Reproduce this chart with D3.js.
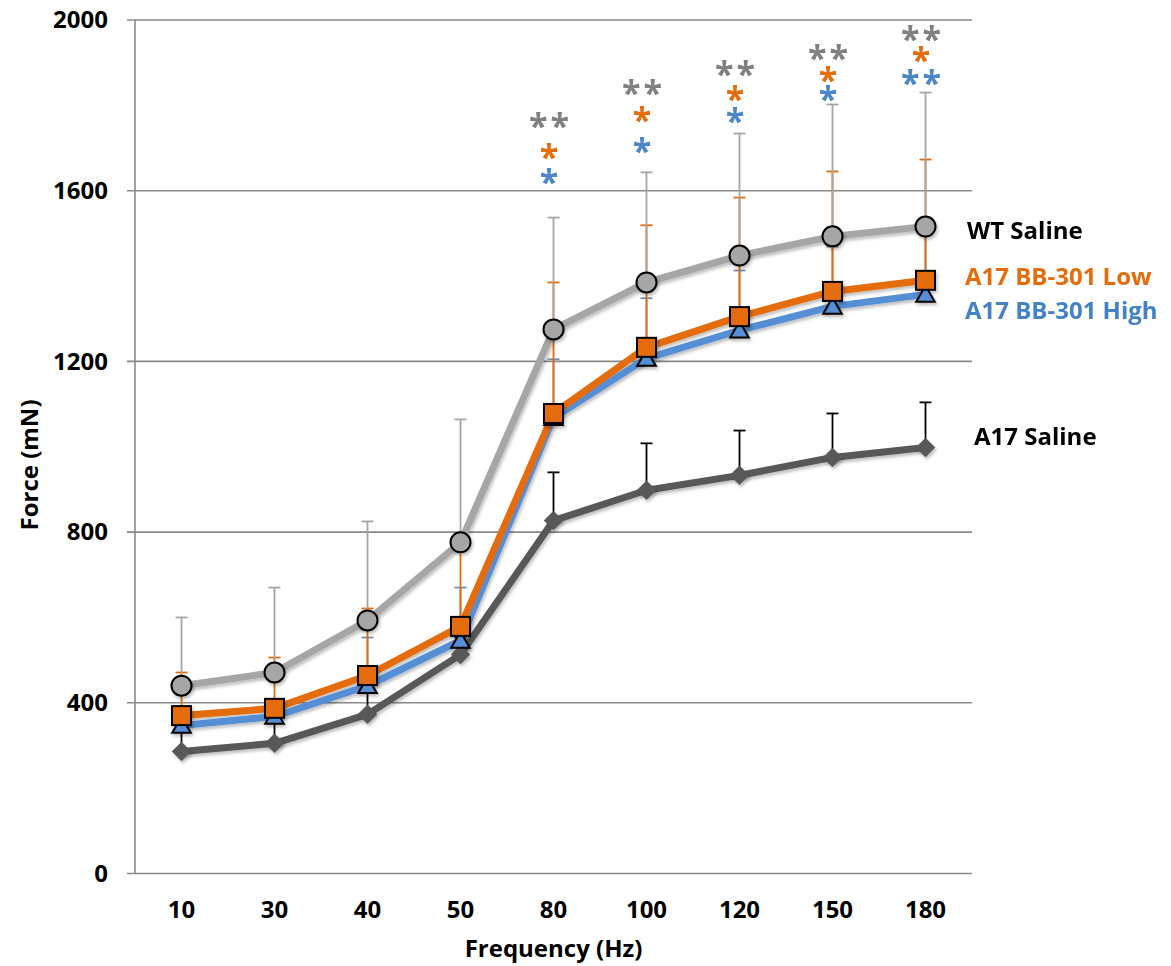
<!DOCTYPE html>
<html>
<head>
<meta charset="utf-8">
<script src="https://cdn.jsdelivr.net/npm/d3@7"></script>
<style>
  body { margin: 0; background: #fff; }
  text { font-family: "Open Sans", sans-serif; font-weight: 700; }
</style>
</head>
<body>
<div id="chart"></div>
<script>
// ---- data ----
const freqs = ["10", "30", "40", "50", "80", "100", "120", "150", "180"];
const yTicks = [0, 400, 800, 1200, 1600, 2000];

const wtSaline = [440, 471, 593, 776, 1275, 1385, 1448, 1493, 1516];
const wtErr    = [160, 199, 232, 288, 262, 258, 286, 309, 314];
const bbLow    = [370, 387, 464, 579, 1078, 1233, 1305, 1364, 1390];
const lowErr   = [101, 119, 157, 190, 307, 286, 279, 281, 283];
const bbHigh   = [347, 368, 440, 546, 1068, 1207, 1273, 1329, 1357];
const highErr  = [30, 25, 113, 124, 137, 141, 140, 140, 140];
const a17Sal   = [286, 305, 373, 513, 827, 898, 933, 975, 998];
const a17Err   = [48, 55, 60, 40, 113, 110, 105, 103, 106];

// significance marks and the force level where each sits
const starsWT   = ["", "", "", "", "**", "**", "**", "**", "**"];
const starsLow  = ["", "", "", "", "*", "*", "*", "*", "*"];
const starsHigh = ["", "", "", "", "*", "*", "*", "*", "**"];
const starWTAt   = [0, 0, 0, 0, 1769, 1847, 1891, 1929, 1973];
const starLowAt  = [0, 0, 0, 0, 1697, 1783, 1833, 1877, 1924];
const starHighAt = [0, 0, 0, 0, 1638, 1710, 1781, 1832, 1870];

// ---- canvas ----
const canvWidth = 1171, canvHeight = 966;
const svg = d3.select("#chart").append("svg")
    .attr("width", canvWidth)
    .attr("height", canvHeight);

const plot = {left: 135, right: 972, top: 20, bottom: 873.5};

const x = d3.scaleBand().domain(freqs).range([plot.left, plot.right]);
const y = d3.scaleLinear().domain([0, 2000]).range([plot.bottom, plot.top]);
const cx = i => x(freqs[i]) + x.bandwidth() / 2;

// soft shadow like the excel one
const defs = svg.append("defs");
defs.append("filter").attr("id", "shadow")
    .attr("x", "-20%").attr("y", "-20%").attr("width", "140%").attr("height", "140%")
    .append("feDropShadow")
    .attr("dx", 1.5).attr("dy", 2.5).attr("stdDeviation", 1.5)
    .attr("flood-color", "#000").attr("flood-opacity", 0.25);

const gridColor = "#898989";

// gridlines
svg.append("g").selectAll("line")
    .data(yTicks)
    .enter().append("line")
    .attr("x1", plot.left - 8).attr("x2", plot.right)
    .attr("y1", d => y(d)).attr("y2", d => y(d))
    .attr("stroke", gridColor).attr("stroke-width", 1.6);

// y axis
const yAxis = svg.append("g")
    .attr("transform", `translate(${plot.left},0)`)
    .call(d3.axisLeft(y).tickValues(yTicks).tickFormat(d3.format("d")).tickSize(0).tickPadding(27));
yAxis.select(".domain").remove();
yAxis.selectAll("text").attr("font-size", 24).attr("fill", "#000")
    .style("font-family", "'Open Sans', sans-serif").style("font-weight", 700);

svg.append("line")
    .attr("x1", plot.left).attr("x2", plot.left)
    .attr("y1", y(0)).attr("y2", y(2000))
    .attr("stroke", gridColor).attr("stroke-width", 1.6);

// x axis
const xAxis = svg.append("g")
    .attr("transform", `translate(0,${plot.bottom})`)
    .call(d3.axisBottom(x).tickSize(0).tickPadding(27));
xAxis.select(".domain").remove();
xAxis.selectAll("text").attr("font-size", 24).attr("fill", "#000")
    .style("font-family", "'Open Sans', sans-serif").style("font-weight", 700);

// axis titles
svg.append("text")
    .attr("transform", "translate(38,465) rotate(-90)")
    .attr("text-anchor", "middle")
    .attr("font-size", 24)
    .text("Force (mN)");

svg.append("text")
    .attr("x", (plot.left + plot.right) / 2)
    .attr("y", 957)
    .attr("text-anchor", "middle")
    .attr("font-size", 24)
    .text("Frequency (Hz)");

// ---- series ----
const series = [
    {name: "A17 Saline", values: a17Sal, err: a17Err, line: "#595959", errColor: "#000", marker: "diamond"},
    {name: "A17 BB-301 High", values: bbHigh, err: highErr, line: "#558ed5", errColor: "#6f8fb8", marker: "triangle"},
    {name: "A17 BB-301 Low", values: bbLow, err: lowErr, line: "#e46c0a", errColor: "#e46c0a", marker: "square"},
    {name: "WT Saline", values: wtSaline, err: wtErr, line: "#a6a6a6", errColor: "#a6a6a6", marker: "circle"}
];

// error bars (upper only)
const errG = svg.append("g");
series.forEach(s => {
    const g = errG.append("g");
    g.selectAll("line.bar")
        .data(s.values)
        .enter().append("line")
        .attr("class", "bar")
        .attr("x1", (d, i) => cx(i)).attr("x2", (d, i) => cx(i))
        .attr("y1", d => y(d)).attr("y2", (d, i) => y(d + s.err[i]))
        .attr("stroke", s.errColor).attr("stroke-width", 1.8);
    g.selectAll("line.cap")
        .data(s.values)
        .enter().append("line")
        .attr("class", "cap")
        .attr("x1", (d, i) => cx(i) - 6).attr("x2", (d, i) => cx(i) + 6)
        .attr("y1", (d, i) => y(d + s.err[i])).attr("y2", (d, i) => y(d + s.err[i]))
        .attr("stroke", s.errColor).attr("stroke-width", 1.8);
});

// lines
const lineGen = d3.line().x((d, i) => cx(i)).y(d => y(d));
svg.append("g").attr("filter", "url(#shadow)")
    .selectAll("path")
    .data(series)
    .enter().append("path")
    .attr("d", s => lineGen(s.values))
    .attr("fill", "none")
    .attr("stroke", s => s.line)
    .attr("stroke-width", 7)
    .attr("stroke-linejoin", "round");

// markers
const markG = svg.append("g").attr("filter", "url(#shadow)");
series.forEach(s => {
    const g = markG.append("g");
    const pts = g.selectAll("g.pt")
        .data(s.values)
        .enter().append("g")
        .attr("transform", (d, i) => `translate(${cx(i)},${y(d)})`);
    if (s.marker === "circle") {
        pts.append("circle").attr("r", 10)
            .attr("fill", "#a6a6a6").attr("stroke", "#000").attr("stroke-width", 2);
    } else if (s.marker === "square") {
        pts.append("rect").attr("x", -9.5).attr("y", -9.5).attr("width", 19).attr("height", 19)
            .attr("fill", "#e46c0a").attr("stroke", "#000").attr("stroke-width", 2);
    } else if (s.marker === "triangle") {
        pts.append("path").attr("d", d3.symbol(d3.symbolTriangle, 150)())
            .attr("transform", "translate(0,2)")
            .attr("fill", "#558ed5").attr("stroke", "#000").attr("stroke-width", 2);
    } else {
        pts.append("path").attr("d", d3.symbol(d3.symbolSquare, 190)())
            .attr("transform", "rotate(45)")
            .attr("fill", "#595959");
    }
});

// significance stars
const starSets = [
    {marks: starsWT, at: starWTAt, color: "#808080"},
    {marks: starsLow, at: starLowAt, color: "#e46c0a"},
    {marks: starsHigh, at: starHighAt, color: "#4a86c8"}
];
const starSize = 34;
starSets.forEach(st => {
    svg.append("g").selectAll("text")
        .data(st.marks.map((m, i) => ({m, i})).filter(d => d.m !== ""))
        .enter().append("text")
        .attr("x", d => cx(d.i) - 3)
        .attr("y", d => y(st.at[d.i]) + starSize * 0.58)
        .attr("text-anchor", "middle")
        .attr("font-size", starSize)
        .attr("letter-spacing", 3)
        .attr("fill", st.color)
        .text(d => d.m);
});

// series labels at right
const labels = [
    {text: "WT Saline", color: "#000", x: 967, y: 239},
    {text: "A17 BB-301 Low", color: "#e46c0a", x: 965, y: 285},
    {text: "A17 BB-301 High", color: "#4382c4", x: 965, y: 319},
    {text: "A17 Saline", color: "#000", x: 974, y: 445}
];
svg.append("g").selectAll("text")
    .data(labels)
    .enter().append("text")
    .attr("x", d => d.x).attr("y", d => d.y)
    .attr("font-size", 24)
    .attr("fill", d => d.color)
    .text(d => d.text);
</script>
</body>
</html>
